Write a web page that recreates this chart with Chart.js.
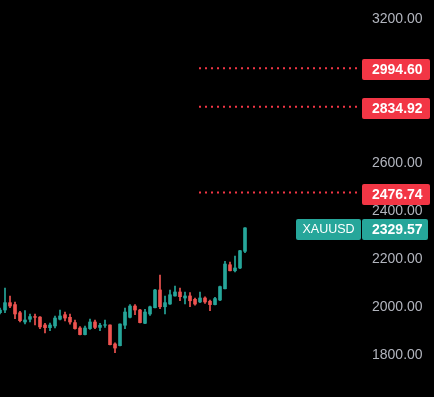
<!DOCTYPE html>
<html lang="en">

<head>
    <meta charset="UTF-8">
    <title>XAUUSD</title>
    <script src="https://cdn.jsdelivr.net/npm/chart.js"></script>
    <style>
        body { margin: 0; background: #000; }
        #wrap { width: 434px; height: 397px; }
    </style>
</head>

<body>
    <div id="wrap"><canvas id="chart" width="434" height="397"></canvas></div>

    <script>
        // candles (oldest first)
        const opens = [1976, 1987.5, 2018, 2010, 1976, 1937.5, 1949, 1960, 1958, 1925,
            1914, 1921, 1949, 1968, 1957, 1935, 1912.5, 1885, 1910, 1937.5,
            1915, 1924, 1925, 1846, 1839, 1924, 1957, 2004, 1987.5, 1932,
            1971, 1997, 2071, 2001, 2012.5, 2046, 2062.5, 2037.5, 2046, 2032,
            2021, 2037.5, 2024, 2010, 2029, 2076, 2176, 2151, 2162.5, 2232];
        const highs = [1996, 2079, 2046, 2021, 1982, 1985, 1971, 1971, 1960, 1932,
            1933, 1962.5, 1987.5, 1979, 1971, 1946, 1918, 1921, 1950, 1946,
            1932, 1946, 1926, 1851, 1930, 1996, 2010, 2010, 1990, 1990,
            2004, 2074, 2133, 2046, 2071, 2087.5, 2079, 2062.5, 2060, 2037.5,
            2062.5, 2042, 2029, 2040, 2087.5, 2190, 2187.5, 2212.5, 2236, 2331];
        const lows = [1971, 1976, 1997, 1951, 1937.5, 1929, 1937.5, 1925, 1910, 1892,
            1901, 1912.5, 1946, 1942, 1928, 1908, 1884, 1884, 1907, 1910,
            1901, 1915, 1842, 1810, 1838, 1910, 1954, 1968, 1934, 1931,
            1965, 1996, 1993, 1971, 2011, 2045, 2026, 2012.5, 2001, 2008,
            2018, 2015, 1985, 2009, 2026, 2075, 2150, 2146, 2160, 2226];
        const closes = [1987.5, 2018, 2004, 1971, 1943, 1946, 1960, 1957, 1917, 1914,
            1925, 1954, 1962.5, 1954, 1937.5, 1910, 1885, 1912.5, 1937.5, 1915,
            1924, 1926, 1843, 1829, 1929, 1979, 2004, 1987.5, 1935, 1979,
            2001, 2071, 2001, 2018, 2051, 2062.5, 2043, 2046, 2026, 2012.5,
            2037.5, 2021, 2010, 2035, 2085, 2179, 2151, 2162.5, 2234.5, 2329.57];

        const symbol = 'XAUUSD';
        const levels = [2994.60, 2834.92, 2476.74];
        const levelStart = 39.8;
        const yTicks = [1800, 2000, 2200, 2400, 2600, 2800, 3000, 3200];

        const UP = '#26a69a';
        const DOWN = '#ef5350';
        const LEVEL = '#f23645';

        const colors = closes.map((c, i) => c >= opens[i] ? UP : DOWN);
        const wicks = lows.map((l, i) => ({ x: i, y: [l, highs[i]] }));
        const bodies = opens.map((o, i) => ({ x: i, y: [o, closes[i]] }));

        const levelSets = levels.map(v => ({
            type: 'line',
            data: [{ x: levelStart, y: v }, { x: 72, y: v }],
            borderColor: LEVEL,
            borderWidth: 2,
            borderDash: [2, 4],
            pointRadius: 0,
            order: 0
        }));

        // price labels on the axis
        const boxes = {
            id: 'boxes',
            afterDraw(chart) {
                const ctx = chart.ctx;
                const y = chart.scales.y;
                const box = (x0, w, v, text, bg, font, center) => {
                    const py = Math.round(y.getPixelForValue(v)) + 1;
                    ctx.fillStyle = bg;
                    ctx.beginPath();
                    ctx.roundRect(x0, py - 10, w, 21, 2);
                    ctx.fill();
                    ctx.fillStyle = '#fff';
                    ctx.font = font;
                    ctx.textBaseline = 'middle';
                    ctx.textAlign = center ? 'center' : 'left';
                    ctx.fillText(text, center ? x0 + w / 2 : x0 + 10, py + 1);
                };
                const priceFont = '600 14px "Liberation Sans", Arial, sans-serif';
                ctx.save();
                levels.forEach(v => box(362, 68, v, v.toFixed(2), LEVEL, priceFont));
                const last = closes[closes.length - 1];
                box(296, 65, last, symbol, UP, '500 12.5px "Liberation Sans", Arial, sans-serif', true);
                box(362, 66, last, last.toFixed(2), UP, priceFont);
                ctx.restore();
            }
        };

        new Chart(document.getElementById('chart'), {
            type: 'bar',
            data: {
                datasets: [{
                    data: wicks,
                    backgroundColor: colors,
                    barThickness: 1,
                    grouped: false,
                    order: 2
                }, {
                    data: bodies,
                    backgroundColor: colors,
                    barThickness: 3,
                    grouped: false,
                    order: 1
                }, ...levelSets]
            },
            options: {
                responsive: false,
                animation: false,
                layout: { padding: 0 },
                plugins: { legend: { display: false }, tooltip: { enabled: false } },
                scales: {
                    x: {
                        type: 'linear',
                        min: 0,
                        max: 72,
                        offset: false,
                        display: false
                    },
                    y: {
                        position: 'right',
                        min: 1625,
                        max: 3279.2,
                        grid: { display: false, drawTicks: false },
                        border: { display: false },
                        afterBuildTicks: s => { s.ticks = yTicks.map(v => ({ value: v })); },
                        afterFit: s => {
                            s.width = 74;
                            s.paddingTop = 0;
                            s.paddingBottom = 0;
                        },
                        ticks: {
                            padding: 12,
                            color: '#b2b5be',
                            font: { family: '"Liberation Sans", Arial, sans-serif', size: 14 },
                            callback: v => v.toFixed(2)
                        }
                    }
                }
            },
            plugins: [boxes]
        });
    </script>

</body>

</html>
